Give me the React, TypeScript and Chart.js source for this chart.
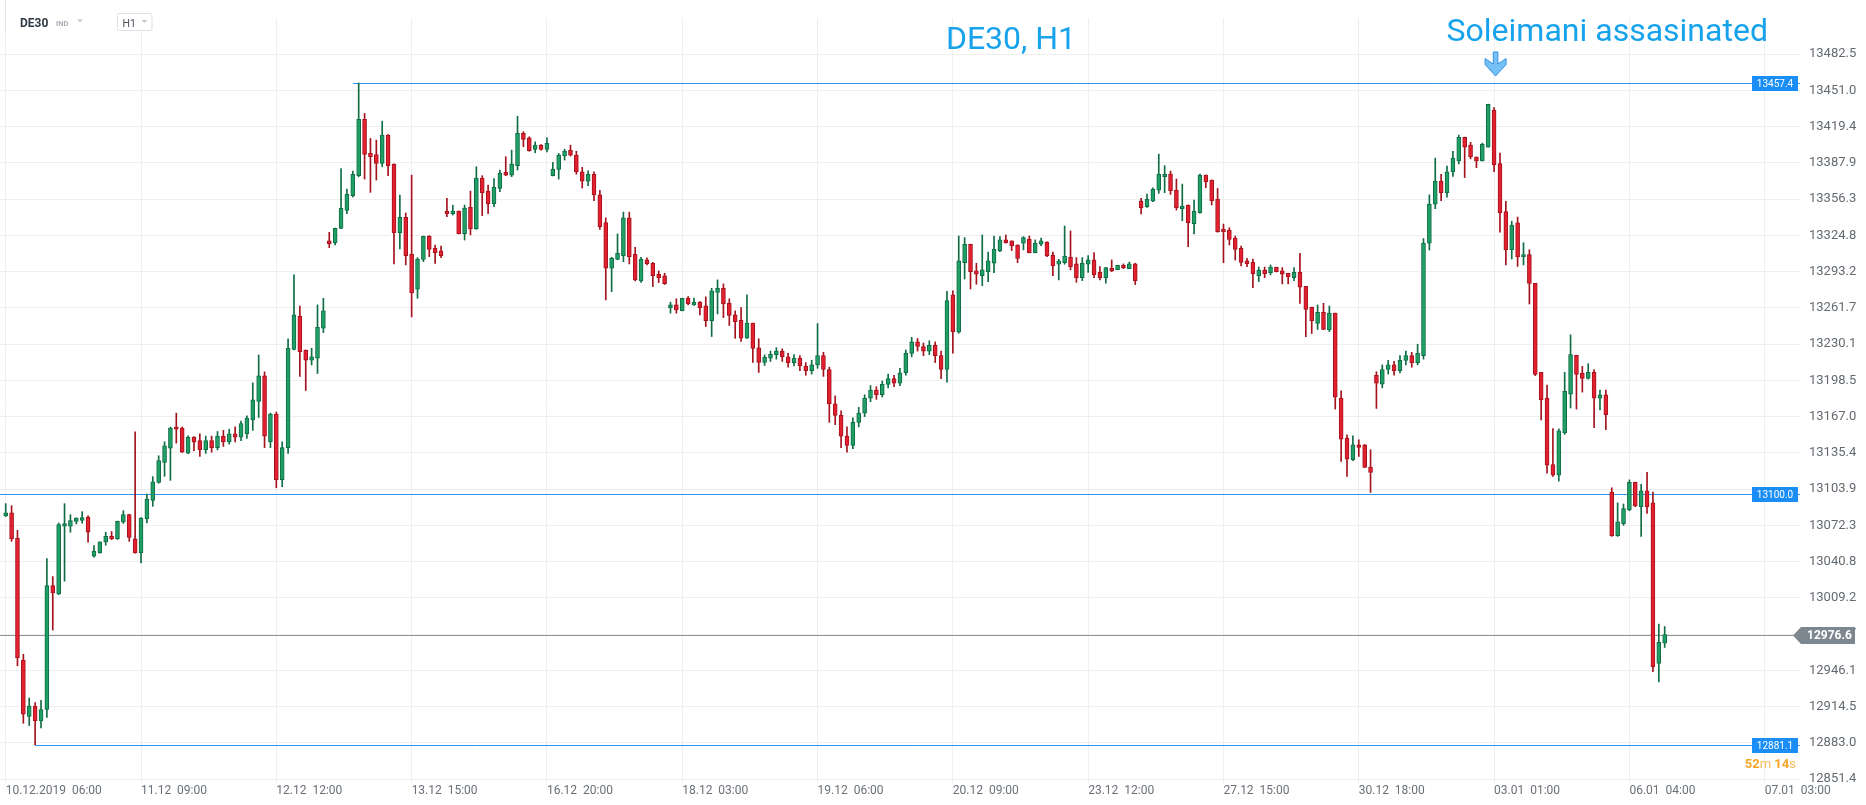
import React, { useEffect, useRef } from "react";
import { Chart, registerables } from "chart.js";

Chart.register(...registerables);

// ---------------- DATA (hourly candles, index = candle number) ----------------
const OPEN = [
  13080.5, 13083.1, 13061.3, 12955.0, 12906.0, 12915.0, 12902.0, 12912.0, 13019.9, 13012.6,
  13071.5, 13071.5, 13075.8, 13076.7, 13079.6, 13045.4, 13048.3, 13057.9, 13062.8, 13060.5,
  13075.0, 13081.6, 13060.5, 13048.3, 13077.9, 13094.1, 13109.7, 13127.1, 13139.6, 13157.9,
  13157.0, 13135.2, 13149.2, 13146.0, 13138.0, 13146.0, 13140.0, 13150.0, 13145.0, 13152.0,
  13149.0, 13152.0, 13164.2, 13180.2, 13202.5, 13145.0, 13169.1, 13112.0, 13140.0, 13225.4,
  13254.4, 13224.8, 13216.1, 13217.8, 13243.9, 13319.9, 13318.4, 13330.9, 13346.5, 13359.3,
  13376.7, 13425.7, 13396.1, 13395.2, 13387.4, 13412.0, 13386.8, 13327.1, 13340.4, 13308.3,
  13278.0, 13303.9, 13324.2, 13313.5, 13311.2, 13345.9, 13343.6, 13345.9, 13326.2, 13349.1,
  13330.3, 13374.6, 13363.3, 13352.3, 13365.6, 13379.6, 13377.2, 13385.4, 13413.5, 13409.7,
  13399.6, 13403.3, 13399.6, 13376.7, 13382.2, 13394.0, 13399.0, 13394.6, 13380.0, 13372.0,
  13378.0, 13360.0, 13336.0, 13296.1, 13303.9, 13307.1, 13340.0, 13308.3, 13285.1, 13303.4,
  13300.5, 13290.9, 13289.5, 13261.9, 13264.2, 13259.3, 13270.1, 13264.2, 13266.6, 13263.4,
  13250.6, 13275.0, 13278.7, 13265.7, 13255.5, 13250.9, 13235.3, 13248.3, 13226.8, 13214.1,
  13217.9, 13221.0, 13224.0, 13219.0, 13214.0, 13218.0, 13211.0, 13207.0, 13212.0, 13220.0,
  13208.0, 13178.0, 13168.0, 13150.0, 13142.0, 13162.0, 13170.0, 13183.0, 13190.0, 13186.0,
  13195.0, 13200.0, 13196.0, 13205.0, 13222.0, 13232.0, 13228.0, 13224.0, 13229.0, 13220.0,
  13208.0, 13272.9, 13240.5, 13301.0, 13317.0, 13293.8, 13289.7, 13293.2, 13300.5, 13311.2,
  13320.8, 13319.9, 13316.4, 13317.9, 13321.6, 13309.7, 13317.0, 13319.0, 13307.7, 13299.6,
  13301.0, 13305.9, 13299.9, 13288.0, 13299.6, 13303.4, 13292.6, 13288.0, 13296.1, 13295.0,
  13298.7, 13295.8, 13299.9, 13354.7, 13349.7, 13354.6, 13364.2, 13375.8, 13378.1, 13364.2,
  13347.9, 13351.2, 13334.9, 13344.5, 13377.2, 13372.9, 13356.4, 13330.3, 13329.4, 13322.5,
  13313.5, 13302.5, 13301.3, 13289.7, 13294.6, 13292.3, 13297.0, 13293.8, 13291.7, 13288.0,
  13292.6, 13280.4, 13262.2, 13248.0, 13257.8, 13242.5, 13257.0, 13183.1, 13148.3, 13129.4,
  13142.5, 13142.5, 13123.1, 13203.0, 13195.2, 13208.0, 13212.0, 13207.0, 13216.0, 13220.0,
  13214.0, 13220.0, 13318.0, 13352.0, 13372.0, 13362.0, 13380.0, 13389.6, 13410.2, 13403.4,
  13393.0, 13389.6, 13401.6, 13433.6, 13387.2, 13345.5, 13312.2, 13335.6, 13306.3, 13308.0,
  13282.9, 13205.5, 13183.1, 13125.3, 13116.0, 13152.8, 13186.6, 13220.3, 13204.8, 13200.3,
  13205.5, 13183.1, 13185.9, 13101.2, 13063.4, 13073.7, 13085.7, 13109.8, 13088.5, 13102.3,
  13091.9, 12952.0, 12969.8,
];

const HIGH = [
  13091.2, 13089.4, 13068.0, 12960.0, 12922.0, 12918.0, 12920.0, 13043.4, 13027.7, 13074.4,
  13091.2, 13081.6, 13078.9, 13084.2, 13080.7, 13054.7, 13058.0, 13066.3, 13066.9, 13076.0,
  13085.1, 13082.0, 13153.8, 13079.0, 13099.6, 13114.7, 13132.9, 13145.1, 13157.9, 13170.0,
  13158.0, 13150.3, 13149.5, 13152.0, 13150.0, 13150.0, 13154.0, 13155.0, 13156.0, 13158.0,
  13163.0, 13167.7, 13196.4, 13220.7, 13205.9, 13170.0, 13171.0, 13145.0, 13234.6, 13290.3,
  13263.3, 13225.0, 13226.5, 13264.2, 13270.0, 13327.4, 13331.0, 13383.0, 13365.1, 13380.7,
  13457.4, 13430.9, 13409.1, 13407.7, 13424.2, 13412.5, 13387.0, 13359.8, 13344.2, 13377.2,
  13305.4, 13324.2, 13324.5, 13316.4, 13315.5, 13356.9, 13351.0, 13346.0, 13351.1, 13363.3,
  13384.5, 13376.7, 13368.5, 13374.3, 13381.6, 13393.2, 13399.0, 13428.5, 13415.0, 13410.6,
  13406.2, 13403.9, 13409.7, 13388.3, 13396.1, 13399.8, 13403.3, 13398.0, 13384.0, 13381.0,
  13380.0, 13364.0, 13340.0, 13305.7, 13326.0, 13345.0, 13345.0, 13314.4, 13305.7, 13305.1,
  13301.3, 13293.8, 13291.8, 13266.6, 13269.5, 13270.1, 13271.5, 13270.1, 13267.1, 13271.2,
  13278.7, 13286.0, 13282.5, 13269.5, 13259.0, 13261.9, 13272.9, 13248.5, 13234.7, 13220.8,
  13224.0, 13227.0, 13226.0, 13222.0, 13221.0, 13220.0, 13214.0, 13216.0, 13248.0, 13223.0,
  13210.0, 13185.0, 13172.0, 13158.0, 13166.0, 13175.0, 13186.0, 13194.0, 13193.0, 13198.0,
  13204.0, 13203.0, 13209.0, 13225.0, 13236.0, 13235.0, 13231.0, 13233.0, 13232.0, 13224.0,
  13276.0, 13276.4, 13324.2, 13322.8, 13317.1, 13300.5, 13325.1, 13310.3, 13324.2, 13323.7,
  13325.1, 13320.0, 13316.6, 13323.7, 13324.2, 13320.8, 13322.5, 13319.2, 13310.3, 13303.9,
  13332.9, 13328.6, 13305.4, 13305.4, 13307.1, 13309.7, 13297.6, 13296.8, 13303.4, 13298.8,
  13299.9, 13301.6, 13300.5, 13357.0, 13360.8, 13366.2, 13395.5, 13385.4, 13380.7, 13373.8,
  13369.4, 13351.3, 13355.5, 13378.1, 13377.3, 13373.0, 13365.6, 13334.6, 13331.4, 13324.2,
  13315.5, 13304.8, 13304.2, 13297.2, 13297.2, 13299.0, 13297.1, 13296.7, 13291.8, 13296.7,
  13309.1, 13280.5, 13262.3, 13264.2, 13265.6, 13263.3, 13257.1, 13189.4, 13151.2, 13150.3,
  13146.8, 13142.6, 13138.1, 13206.0, 13212.0, 13216.0, 13215.0, 13220.0, 13224.0, 13223.0,
  13230.0, 13322.0, 13360.0, 13392.0, 13378.0, 13385.0, 13398.0, 13412.0, 13410.3, 13405.8,
  13393.1, 13405.1, 13439.0, 13436.0, 13396.5, 13354.5, 13337.1, 13340.7, 13318.4, 13312.2,
  13283.0, 13205.6, 13194.5, 13156.6, 13156.3, 13205.5, 13238.2, 13220.4, 13210.7, 13213.1,
  13207.9, 13190.0, 13190.0, 13105.0, 13091.9, 13090.9, 13111.9, 13110.0, 13108.1, 13118.4,
  13101.2, 12986.3, 12984.2,
];

const LOW = [
  13080.0, 13058.4, 12950.0, 12900.0, 12898.0, 12881.1, 12896.0, 12905.0, 12981.1, 13012.0,
  13023.7, 13066.3, 13073.5, 13074.1, 13057.6, 13044.5, 13048.0, 13055.0, 13059.9, 13060.0,
  13074.0, 13058.4, 13048.0, 13039.6, 13074.4, 13088.9, 13109.0, 13115.0, 13111.5, 13143.9,
  13135.8, 13134.7, 13137.3, 13132.3, 13135.0, 13136.0, 13138.0, 13141.0, 13143.0, 13145.0,
  13146.0, 13148.0, 13155.0, 13166.2, 13140.0, 13140.0, 13105.0, 13106.0, 13135.0, 13225.0,
  13201.9, 13189.7, 13212.0, 13204.5, 13240.1, 13314.1, 13316.4, 13330.5, 13343.6, 13358.1,
  13375.8, 13373.8, 13362.2, 13372.9, 13384.5, 13376.7, 13299.8, 13312.9, 13299.0, 13253.8,
  13270.0, 13301.9, 13306.2, 13300.4, 13305.3, 13341.0, 13342.5, 13326.0, 13320.7, 13325.1,
  13330.0, 13341.9, 13343.6, 13349.7, 13362.7, 13376.7, 13375.8, 13381.6, 13401.9, 13398.0,
  13396.7, 13399.0, 13397.5, 13376.5, 13373.8, 13390.3, 13393.8, 13378.0, 13366.0, 13368.0,
  13355.0, 13330.0, 13268.6, 13275.8, 13303.5, 13301.9, 13299.9, 13285.1, 13283.7, 13299.0,
  13280.2, 13283.7, 13282.0, 13257.0, 13257.0, 13259.0, 13264.2, 13263.7, 13255.5, 13245.4,
  13236.7, 13256.4, 13253.2, 13246.3, 13235.2, 13232.4, 13235.0, 13214.1, 13205.4, 13211.5,
  13215.0, 13217.0, 13215.0, 13210.0, 13211.0, 13207.0, 13203.0, 13204.0, 13209.0, 13202.0,
  13162.0, 13160.0, 13140.0, 13136.0, 13139.0, 13158.0, 13167.0, 13180.0, 13182.0, 13184.0,
  13192.0, 13193.0, 13194.0, 13203.0, 13219.0, 13224.0, 13220.0, 13221.0, 13214.0, 13200.0,
  13197.0, 13222.2, 13239.6, 13286.8, 13278.1, 13282.2, 13281.0, 13284.5, 13292.3, 13310.6,
  13318.0, 13311.5, 13301.0, 13312.1, 13309.5, 13309.5, 13315.8, 13306.3, 13289.7, 13286.0,
  13299.6, 13294.7, 13283.9, 13285.4, 13292.6, 13288.0, 13286.0, 13283.1, 13293.2, 13294.9,
  13295.8, 13295.7, 13281.9, 13343.4, 13349.0, 13354.0, 13361.3, 13361.9, 13360.4, 13346.8,
  13337.5, 13314.9, 13326.0, 13344.0, 13366.2, 13351.2, 13327.5, 13301.0, 13316.4, 13303.3,
  13298.1, 13297.5, 13279.3, 13284.5, 13288.0, 13290.3, 13292.9, 13282.5, 13282.5, 13285.4,
  13265.6, 13236.6, 13239.3, 13242.8, 13242.7, 13241.0, 13173.5, 13128.0, 13114.9, 13128.6,
  13132.3, 13122.7, 13101.0, 13174.1, 13192.0, 13204.0, 13203.0, 13205.0, 13212.0, 13210.0,
  13212.0, 13217.0, 13312.0, 13348.0, 13355.0, 13358.0, 13376.0, 13387.0, 13375.1, 13391.3,
  13383.7, 13389.5, 13401.5, 13380.3, 13327.6, 13299.1, 13304.2, 13297.7, 13299.1, 13265.0,
  13202.7, 13164.2, 13117.7, 13115.0, 13110.8, 13151.5, 13174.5, 13173.5, 13188.3, 13199.6,
  13157.3, 13172.8, 13155.6, 13062.7, 13062.7, 13072.3, 13085.0, 13088.5, 13062.7, 13082.6,
  12945.0, 12936.0, 12966.0,
];

const CLOSE = [
  13083.1, 13060.5, 12957.0, 12908.0, 12915.0, 12902.0, 12912.0, 13019.9, 13013.5, 13072.9,
  13073.8, 13076.4, 13078.7, 13079.0, 13066.3, 13050.0, 13057.9, 13062.8, 13060.5, 13075.8,
  13081.6, 13061.9, 13048.3, 13078.7, 13095.2, 13110.3, 13128.6, 13141.6, 13157.0, 13156.1,
  13136.1, 13149.2, 13144.8, 13138.1, 13146.0, 13140.0, 13150.0, 13145.0, 13152.0, 13149.0,
  13161.0, 13165.7, 13181.6, 13202.5, 13150.0, 13169.1, 13112.0, 13140.0, 13226.5, 13255.5,
  13223.6, 13216.1, 13219.0, 13244.8, 13259.0, 13317.5, 13330.9, 13348.3, 13360.4, 13377.8,
  13425.7, 13395.2, 13393.2, 13387.4, 13412.0, 13385.4, 13327.1, 13340.4, 13307.1, 13274.6,
  13304.2, 13324.0, 13312.6, 13309.7, 13307.1, 13343.6, 13345.9, 13326.2, 13348.5, 13330.3,
  13374.6, 13361.9, 13352.3, 13366.8, 13378.7, 13377.2, 13386.8, 13413.5, 13408.3, 13398.4,
  13403.3, 13399.6, 13404.8, 13382.5, 13394.6, 13398.1, 13394.6, 13380.0, 13372.0, 13378.0,
  13360.0, 13332.3, 13296.1, 13304.8, 13309.2, 13340.0, 13306.3, 13286.0, 13304.2, 13300.2,
  13289.7, 13288.0, 13282.8, 13264.2, 13259.9, 13270.0, 13265.4, 13266.6, 13261.9, 13250.6,
  13276.4, 13278.7, 13265.1, 13255.0, 13249.7, 13235.3, 13248.3, 13226.3, 13214.1, 13218.7,
  13221.3, 13224.0, 13219.0, 13214.0, 13218.0, 13211.0, 13207.0, 13212.0, 13220.0, 13208.0,
  13178.0, 13168.0, 13150.0, 13142.0, 13162.0, 13170.0, 13183.0, 13190.0, 13186.0, 13195.0,
  13200.0, 13196.0, 13205.0, 13222.0, 13232.0, 13228.0, 13224.0, 13229.0, 13220.0, 13208.0,
  13268.0, 13241.0, 13302.5, 13317.0, 13293.2, 13290.9, 13294.7, 13302.5, 13312.9, 13320.8,
  13318.4, 13315.8, 13304.8, 13322.8, 13309.7, 13317.8, 13319.9, 13306.8, 13298.4, 13302.5,
  13306.8, 13297.6, 13288.0, 13300.5, 13303.4, 13290.3, 13288.0, 13296.7, 13293.8, 13298.7,
  13296.7, 13299.9, 13285.4, 13348.9, 13356.1, 13365.1, 13378.1, 13378.0, 13363.6, 13348.8,
  13350.3, 13335.8, 13345.9, 13377.2, 13371.4, 13354.9, 13328.0, 13328.0, 13321.3, 13312.6,
  13301.3, 13300.1, 13291.4, 13294.6, 13291.2, 13297.2, 13293.2, 13290.9, 13288.8, 13292.6,
  13279.6, 13260.4, 13250.6, 13257.8, 13242.8, 13257.0, 13183.9, 13147.4, 13130.0, 13142.5,
  13140.2, 13122.8, 13118.4, 13196.1, 13208.0, 13212.0, 13207.0, 13216.0, 13220.0, 13214.0,
  13222.0, 13318.0, 13352.0, 13372.0, 13362.0, 13380.0, 13392.0, 13410.2, 13401.6, 13393.0,
  13389.6, 13404.0, 13438.8, 13386.1, 13344.2, 13312.2, 13333.8, 13306.0, 13308.0, 13282.9,
  13203.8, 13181.4, 13124.6, 13116.0, 13154.6, 13189.0, 13221.0, 13203.8, 13200.3, 13205.5,
  13183.1, 13185.9, 13168.7, 13063.4, 13075.4, 13086.8, 13109.8, 13089.2, 13102.3, 13088.5,
  12949.0, 12970.5, 12977.3,
];

// time axis: candle index where each date label sits, and its text
const X_TICK_INDEX = [0, 23, 46, 69, 92, 115, 138, 161, 184, 207, 230, 253, 276, 299];
const X_TICK_LABELS = [
  "10.12.2019  06:00", "11.12  09:00", "12.12  12:00", "13.12  15:00", "16.12  20:00",
  "18.12  03:00", "19.12  06:00", "20.12  09:00", "23.12  12:00", "27.12  15:00",
  "30.12  18:00", "03.01  01:00", "06.01  04:00", "07.01  03:00",
];
const Y_TICKS = [
  13482.5, 13451.0, 13419.4, 13387.9, 13356.3, 13324.8, 13293.2, 13261.7, 13230.1, 13198.5,
  13167.0, 13135.4, 13103.9, 13072.3, 13040.8, 13009.2, 12977.7, 12946.1, 12914.5, 12883.0, 12851.4,
];
const LEVEL_PRICES = [13457.4, 13100.0, 12881.1];
const LEVEL_START = [59, null, 5];
const LAST_PRICE = 12976.6;
const TITLE = "DE30, H1";
const NOTE = "Soleimani assasinated";
const NOTE_INDEX = 253;
const SYMBOL = "DE30";
const SYMBOL_KIND = "IND";
const TIMEFRAME = "H1";
const COUNTDOWN = [["52", true], ["m ", false], ["14", true], ["s", false]];

// ---------------- STYLE ----------------
const W = 1866;
const H = 805;
const X_MIN = -0.97;
const X_MAX = 305.0;
const Y_MIN = 12848;
const Y_MAX = 13514;
const GREEN = "#1f9f66";
const GREEN_DARK = "#0f6c44";
const RED = "#e3202f";
const RED_DARK = "#a3121d";
const BLUE = "#2f95f2";
const TITLE_BLUE = "#17a3ec";
const FONT = "Roboto, 'DejaVu Sans', sans-serif";

const isUp = (i) => CLOSE[i] >= OPEN[i];

const overlay = {
  id: "overlay",
  beforeDraw(chart) {
    const { ctx } = chart;
    ctx.save();
    ctx.fillStyle = "#ffffff";
    ctx.fillRect(0, 0, chart.width, chart.height);
    ctx.restore();
  },
  beforeDatasetsDraw(chart) {
    const { ctx, chartArea: a, scales } = chart;
    const x = scales.x;
    const y = scales.y;
    ctx.save();
    ctx.lineWidth = 1;
    const yl = Math.round(y.getPixelForValue(LAST_PRICE)) + 0.5;
    ctx.strokeStyle = "#8b959d";
    ctx.beginPath();
    ctx.moveTo(a.left, yl);
    ctx.lineTo(a.right, yl);
    ctx.stroke();
    LEVEL_PRICES.forEach((p, k) => {
      const yy = Math.round(y.getPixelForValue(p)) + 0.5;
      const s = LEVEL_START[k];
      const x0 = s == null ? a.left : x.getPixelForValue(s);
      ctx.strokeStyle = BLUE;
      ctx.beginPath();
      ctx.moveTo(x0, yy);
      ctx.lineTo(a.right, yy);
      ctx.stroke();
    });
    ctx.restore();
  },
  afterDraw(chart) {
    const { ctx, chartArea: a, scales } = chart;
    const x = scales.x;
    const y = scales.y;
    ctx.save();
    // level boxes
    LEVEL_PRICES.forEach((p) => {
      const yy = Math.round(y.getPixelForValue(p)) + 0.5;
      ctx.fillStyle = "#1a8ef6";
      ctx.fillRect(a.right - 48, yy - 7.5, 46, 15);
      ctx.fillStyle = "#ffffff";
      ctx.font = `10px ${FONT}`;
      ctx.textAlign = "center";
      ctx.textBaseline = "middle";
      ctx.fillText(p.toFixed(1), a.right - 25, yy + 0.5);
    });
    // last price badge
    const yl = Math.round(y.getPixelForValue(LAST_PRICE)) + 0.5;
    ctx.fillStyle = "#7c8790";
    ctx.beginPath();
    ctx.moveTo(a.right - 7, yl);
    ctx.lineTo(a.right + 1, yl - 8.5);
    ctx.lineTo(a.right + 55, yl - 8.5);
    ctx.lineTo(a.right + 55, yl + 8.5);
    ctx.lineTo(a.right + 1, yl + 8.5);
    ctx.closePath();
    ctx.fill();
    ctx.fillStyle = "#ffffff";
    ctx.font = `bold 12px ${FONT}`;
    ctx.textAlign = "left";
    ctx.textBaseline = "middle";
    ctx.fillText(LAST_PRICE.toFixed(1), a.right + 7, yl + 0.5);
    // countdown
    ctx.textBaseline = "alphabetic";
    let total = 0;
    COUNTDOWN.forEach(([t, b]) => {
      ctx.font = `${b ? "bold " : ""}13px ${FONT}`;
      total += ctx.measureText(t).width;
    });
    let cx = a.right - 4 - total;
    COUNTDOWN.forEach(([t, b]) => {
      ctx.font = `${b ? "bold " : ""}13px ${FONT}`;
      ctx.fillStyle = b ? "#f5a524" : "#f7bb5c";
      ctx.fillText(t, cx, 768);
      cx += ctx.measureText(t).width;
    });
    // titles
    ctx.fillStyle = TITLE_BLUE;
    ctx.font = `32px ${FONT}`;
    ctx.textAlign = "center";
    ctx.fillText(TITLE, 1011, 49);
    const ax = x.getPixelForValue(NOTE_INDEX) + 1.5;
    ctx.textAlign = "left";
    ctx.fillText(NOTE, ax - 49, 41);
    // arrow
    ctx.fillStyle = "#74c0f7";
    ctx.strokeStyle = "#3493e6";
    ctx.lineWidth = 1;
    ctx.beginPath();
    ctx.moveTo(ax - 2.3, 52);
    ctx.lineTo(ax + 2.3, 52);
    ctx.lineTo(ax + 2.3, 64);
    ctx.lineTo(ax + 10.5, 58.5);
    ctx.lineTo(ax + 10.5, 64.5);
    ctx.lineTo(ax, 76);
    ctx.lineTo(ax - 10.5, 64.5);
    ctx.lineTo(ax - 10.5, 58.5);
    ctx.lineTo(ax - 2.3, 64);
    ctx.closePath();
    ctx.fill();
    ctx.stroke();
    // header
    ctx.fillStyle = "#ffffff";
    ctx.fillRect(8, 0, 152, 31);
    ctx.strokeStyle = "#e4e6e8";
    ctx.beginPath();
    ctx.moveTo(5.5, 0);
    ctx.lineTo(5.5, 31);
    ctx.stroke();
    ctx.textAlign = "left";
    ctx.textBaseline = "alphabetic";
    ctx.fillStyle = "#2f3a45";
    ctx.font = `bold 12px ${FONT}`;
    ctx.fillText(SYMBOL, 20, 27);
    ctx.fillStyle = "#a9afb5";
    ctx.font = `bold 7.5px ${FONT}`;
    ctx.fillText(SYMBOL_KIND, 56, 26);
    ctx.fillStyle = "#c3c7cc";
    ctx.beginPath();
    ctx.moveTo(77, 19.3);
    ctx.lineTo(83, 19.3);
    ctx.lineTo(80, 22.3);
    ctx.closePath();
    ctx.fill();
    ctx.strokeStyle = "#dde0e4";
    ctx.beginPath();
    ctx.roundRect(117.5, 13.5, 34.5, 17, 2);
    ctx.stroke();
    ctx.fillStyle = "#4b535b";
    ctx.font = `10.5px ${FONT}`;
    ctx.fillText(TIMEFRAME, 122.5, 26.7);
    ctx.fillStyle = "#c3c7cc";
    ctx.beginPath();
    ctx.moveTo(141.5, 20);
    ctx.lineTo(147.5, 20);
    ctx.lineTo(144.5, 23);
    ctx.closePath();
    ctx.fill();
    ctx.restore();
  },
};

export default function App() {
  const ref = useRef(null);
  useEffect(() => {
    document.body.style.margin = "0";
    const canvas = ref.current;
    if (!canvas) return;
    Chart.defaults.font.family = FONT;
    const wickData = OPEN.map((o, i) => ({
      x: i,
      y: [Math.min(LOW[i], o, CLOSE[i]), Math.max(HIGH[i], o, CLOSE[i])],
    }));
    const bodyData = OPEN.map((o, i) => ({ x: i, y: [o, CLOSE[i]] }));
    const chart = new Chart(canvas, {
      type: "bar",
      data: {
        datasets: [
          {
            label: "wick",
            data: wickData,
            backgroundColor: OPEN.map((_, i) => (isUp(i) ? GREEN_DARK : RED_DARK)),
            barThickness: 1,
            grouped: false,
            order: 2,
          },
          {
            label: "body",
            data: bodyData,
            backgroundColor: OPEN.map((_, i) => (isUp(i) ? GREEN : RED)),
            borderColor: OPEN.map((_, i) => (isUp(i) ? GREEN_DARK : RED_DARK)),
            borderWidth: 1,
            borderSkipped: false,
            barThickness: 4,
            minBarLength: 2,
            grouped: false,
            order: 1,
          },
        ],
      },
      options: {
        responsive: false,
        animation: false,
        events: [],
        layout: { padding: { top: 18, left: 0, right: 0, bottom: 0 } },
        plugins: { legend: { display: false }, tooltip: { enabled: false } },
        scales: {
          x: {
            type: "linear",
            min: X_MIN,
            max: X_MAX,
            offset: false,
            afterBuildTicks: (s) => {
              s.ticks = X_TICK_INDEX.map((v) => ({ value: v }));
            },
            afterFit: (s) => {
              s.height = 22;
            },
            ticks: {
              autoSkip: false,
              maxRotation: 0,
              minRotation: 0,
              align: "start",
              padding: 1,
              color: "#6a7077",
              font: { family: FONT, size: 12 },
              callback: (v, i) => X_TICK_LABELS[i],
            },
            grid: { color: "#efefef", lineWidth: 1, drawTicks: false, offset: false },
            border: { display: false },
          },
          y: {
            type: "linear",
            position: "right",
            min: Y_MIN,
            max: Y_MAX,
            afterBuildTicks: (s) => {
              s.ticks = Y_TICKS.map((v) => ({ value: v }));
            },
            afterFit: (s) => {
              s.width = 66;
            },
            ticks: {
              autoSkip: false,
              padding: 9,
              color: "#636a71",
              font: { family: FONT, size: 13 },
              callback: (v) => Number(v).toFixed(1),
            },
            grid: { color: "#efefef", lineWidth: 1, drawTicks: false },
            border: { display: false },
          },
        },
      },
      plugins: [overlay],
    });
    return () => chart.destroy();
  }, []);
  return (
    <div style={{ position: "absolute", left: 0, top: 0, width: W, height: H, background: "#fff" }}>
      <canvas ref={ref} width={W} height={H} style={{ display: "block", width: W, height: H }} />
    </div>
  );
}
